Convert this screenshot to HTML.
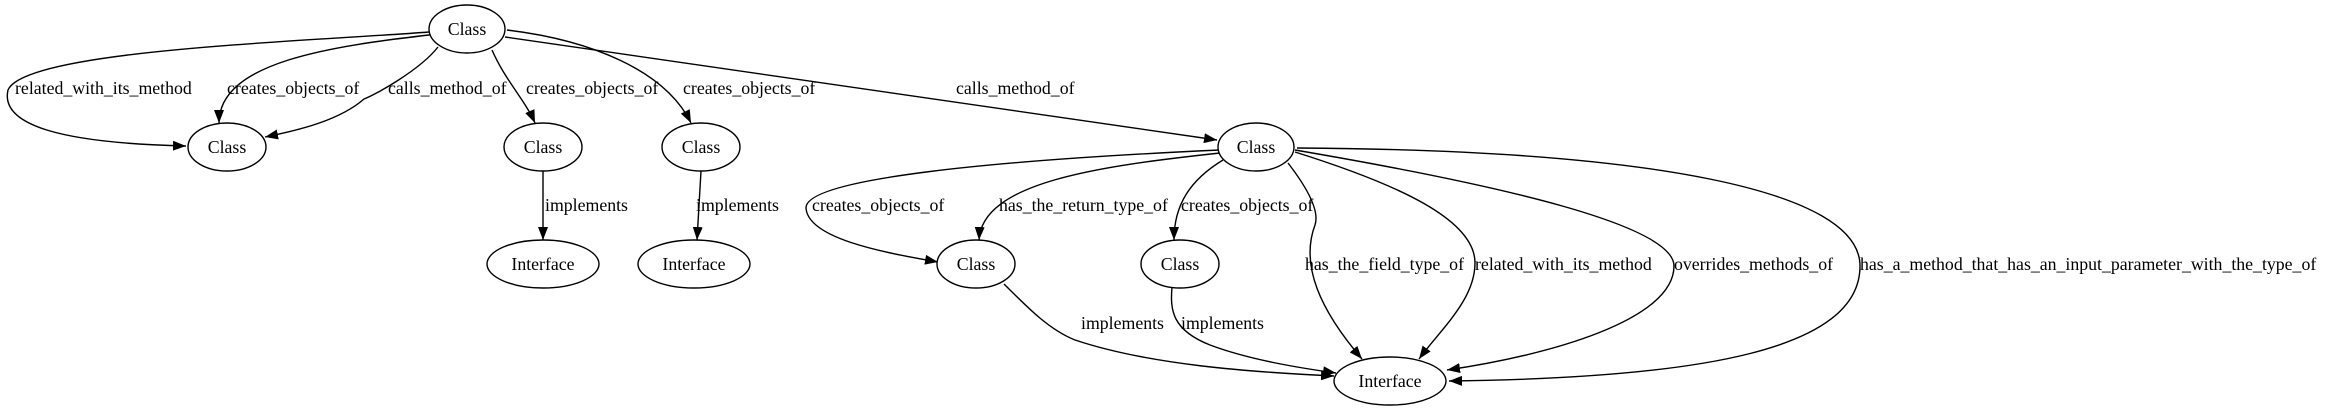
<!DOCTYPE html>
<html><head><meta charset="utf-8"><style>
html,body{margin:0;padding:0;background:#fff;}
svg{display:block;}
text{font-family:"Liberation Serif",serif;font-size:17.8px;fill:#000;}
</style></head><body>
<svg width="2331" height="411" viewBox="0 0 2331 411" xmlns="http://www.w3.org/2000/svg">
<defs>
<marker id="a" markerWidth="14" markerHeight="10" refX="13" refY="5" orient="auto" markerUnits="userSpaceOnUse">
<path d="M0,0 L13,5 L0,10 Z" fill="#000"/>
</marker>
</defs>
<g fill="none" stroke="#000" stroke-width="1.4" marker-end="url(#a)">
<path d="M429,32 C300,42 25,50 8,90 C0,125 60,143 186,146"/>
<path d="M438,34 C330,46 219,62 219,123"/>
<path d="M438,47 C420,70 375,95 364,99 C340,120 300,130 265,137"/>
<path d="M492,50 C505,80 525,100 535,123"/>
<path d="M507,30 C590,40 665,70 691,123"/>
<path d="M505,37 L1217,140"/>
<path d="M1220,150 C1000,160 805,178 806,208 C808,238 880,252 938,262"/>
<path d="M1220,153 C1100,166 982,182 979,240"/>
<path d="M1223,160 C1190,180 1174,205 1174,240"/>
<path d="M1288,163 C1305,185 1320,210 1315,225 C1300,265 1320,310 1362,359"/>
<path d="M1295,152 C1400,185 1475,220 1475,263 C1475,300 1440,330 1419,359"/>
<path d="M1295,150 C1500,185 1674,225 1674,266 C1674,320 1550,355 1447,370"/>
<path d="M1297,148 C1650,150 1860,190 1860,266 C1860,350 1700,378 1449,381"/>
<path d="M543,171 L543,240"/>
<path d="M701,171 L697,240"/>
<path d="M1004,284 C1030,310 1050,330 1075,340 C1150,365 1250,372 1334,376"/>
<path d="M1172,287 C1170,310 1172,330 1210,345 C1250,360 1300,368 1336,373"/>
</g>
<g fill="#fff" stroke="#000" stroke-width="1.4">
<ellipse cx="467" cy="29" rx="38" ry="24"/>
<ellipse cx="227" cy="147" rx="39" ry="24"/>
<ellipse cx="543" cy="147" rx="39" ry="24"/>
<ellipse cx="701" cy="147" rx="39" ry="24"/>
<ellipse cx="543" cy="264" rx="56" ry="24"/>
<ellipse cx="694" cy="264" rx="56" ry="24"/>
<ellipse cx="976" cy="264" rx="39" ry="24"/>
<ellipse cx="1256" cy="147" rx="38" ry="24"/>
<ellipse cx="1180" cy="264" rx="39" ry="24"/>
<ellipse cx="1390" cy="381" rx="56" ry="24"/>
</g>
<g text-anchor="middle">
<text x="467" y="35">Class</text>
<text x="227" y="153">Class</text>
<text x="543" y="153">Class</text>
<text x="701" y="153">Class</text>
<text x="543" y="270">Interface</text>
<text x="694" y="270">Interface</text>
<text x="976" y="270">Class</text>
<text x="1256" y="153">Class</text>
<text x="1180" y="270">Class</text>
<text x="1390" y="387">Interface</text>
</g>
<g>
<text x="15" y="94">related_with_its_method</text>
<text x="227" y="94">creates_objects_of</text>
<text x="388" y="94">calls_method_of</text>
<text x="526" y="94">creates_objects_of</text>
<text x="683" y="94">creates_objects_of</text>
<text x="956" y="94">calls_method_of</text>
<text x="545" y="211">implements</text>
<text x="696" y="211">implements</text>
<text x="812" y="211">creates_objects_of</text>
<text x="999" y="211">has_the_return_type_of</text>
<text x="1181" y="211">creates_objects_of</text>
<text x="1305" y="270">has_the_field_type_of</text>
<text x="1475" y="270">related_with_its_method</text>
<text x="1674" y="270">overrides_methods_of</text>
<text x="1860" y="270">has_a_method_that_has_an_input_parameter_with_the_type_of</text>
<text x="1081" y="329">implements</text>
<text x="1181" y="329">implements</text>
</g>
</svg>
</body></html>
